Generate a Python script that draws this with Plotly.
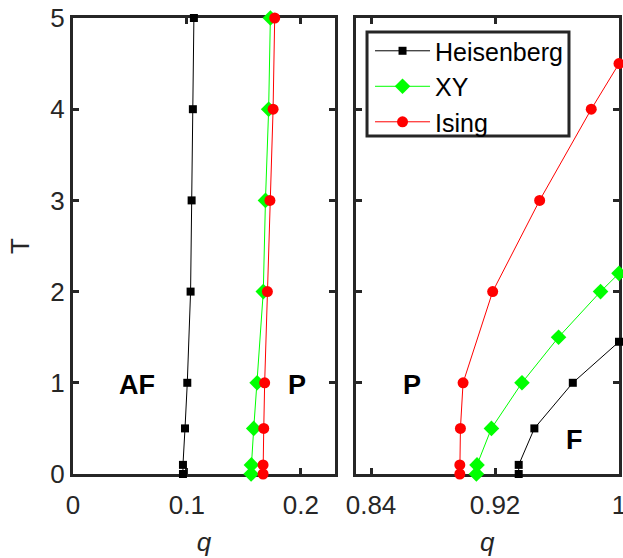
import plotly.graph_objects as go

# ---- data ----
T_left = [0, 0.1, 0.5, 1, 2, 3, 4, 5]
q_heis_left = [0.0965, 0.0965, 0.0983, 0.1003, 0.1032, 0.1041, 0.1052, 0.1061]
q_xy_left = [0.1563, 0.1566, 0.1586, 0.1616, 0.1670, 0.1689, 0.1717, 0.1732]
q_ising_left = [0.1668, 0.1668, 0.1674, 0.1682, 0.1706, 0.1728, 0.1756, 0.1770]

T_heis_right = [0, 0.1, 0.5, 1, 1.45]
q_heis_right = [0.9353, 0.9353, 0.9454, 0.9702, 1.0]
T_xy_right = [0, 0.1, 0.5, 1, 1.5, 2, 2.2]
q_xy_right = [0.9080, 0.9084, 0.9177, 0.9374, 0.9610, 0.9881, 1.0]
T_ising_right = [0, 0.1, 0.5, 1, 2, 3, 4, 4.5]
q_ising_right = [0.8973, 0.8973, 0.8977, 0.8994, 0.9185, 0.9488, 0.9821, 1.0]

left_ticks = [0, 0.1, 0.2]
left_ticklabels = ["0", "0.1", "0.2"]
right_ticks = [0.84, 0.92, 1]
right_ticklabels = ["0.84", "0.92", "1"]
y_ticks = [0, 1, 2, 3, 4, 5]

series = [
    ("Heisenberg", "black", "square", 8, q_heis_left, T_left, q_heis_right, T_heis_right),
    ("XY", "#00ff00", "diamond", 12, q_xy_left, T_left, q_xy_right, T_xy_right),
    ("Ising", "#ff0000", "circle", 11, q_ising_left, T_left, q_ising_right, T_ising_right),
]

FONT = "Liberation Sans, Arial, sans-serif"
AX = "#262626"

fig = go.Figure()
for name, col, sym, sz, ql, tl, qr, tr in series:
    fig.add_trace(go.Scatter(x=ql, y=tl, mode="lines+markers", name=name,
                             line=dict(color=col, width=1),
                             marker=dict(symbol=sym, size=sz, color=col),
                             cliponaxis=False, showlegend=True,
                             xaxis="x", yaxis="y"))
    fig.add_trace(go.Scatter(x=qr, y=tr, mode="lines+markers", name=name,
                             line=dict(color=col, width=1),
                             marker=dict(symbol=sym, size=sz, color=col),
                             cliponaxis=False, showlegend=False,
                             xaxis="x2", yaxis="y2"))

common = dict(showline=True, linecolor=AX, linewidth=3, mirror="ticks",
              ticks="inside", ticklen=6, tickwidth=2.5, tickcolor=AX,
              showgrid=False, zeroline=False, layer="below traces",
              automargin=False, ticklabeloverflow="allow",
              tickfont=dict(family=FONT, size=26, color=AX))

title_font = dict(family=FONT, size=26, color=AX)

fig.update_layout(
    width=623, height=558,
    margin=dict(l=73, r=4, t=18, b=84),
    paper_bgcolor="white", plot_bgcolor="white",
    font=dict(family=FONT, size=24, color=AX),
    xaxis=dict(domain=[0, 0.48], range=[0, 0.23], tickvals=left_ticks,
               ticktext=left_ticklabels, ticklabelstandoff=6,
               title=dict(text="<i>q</i>", font=title_font, standoff=14),
               **common),
    yaxis=dict(range=[0, 5], tickvals=y_ticks, anchor="x",
               title=dict(text="T", font=title_font, standoff=14),
               **common),
    xaxis2=dict(domain=[0.5174, 1], range=[0.83, 1], tickvals=right_ticks,
                ticktext=right_ticklabels, anchor="y2", ticklabelstandoff=6,
                title=dict(text="<i>q</i>", font=title_font, standoff=14),
                **common),
    yaxis2=dict(range=[0, 5], tickvals=y_ticks, anchor="x2", showticklabels=False,
                **common),
    legend=dict(x=0.544, y=0.978, xanchor="left", yanchor="top",
                bgcolor="rgba(0,0,0,0)", borderwidth=0,
                font=dict(family=FONT, size=25, color="black"),
                itemwidth=55, tracegroupgap=0),
    showlegend=True,
)

# legend frame
fig.add_shape(type="rect", xref="paper", yref="paper",
              x0=0.5385, x1=0.9084, y0=0.7412, y1=0.9693,
              line=dict(color=AX, width=3), fillcolor="white", layer="above")

annots = [
    ("AF", 0.056, 0.98, "x", "y"),
    ("P", 0.197, 0.98, "x", "y"),
    ("P", 0.8664, 0.98, "x2", "y2"),
    ("F", 0.9713, 0.37, "x2", "y2"),
]
for txt, x, y, xr, yr in annots:
    fig.add_annotation(text="<b>%s</b>" % txt, x=x, y=y, xref=xr, yref=yr,
                       showarrow=False, font=dict(family=FONT, size=27, color="black"))

fig.write_html("out.html")
